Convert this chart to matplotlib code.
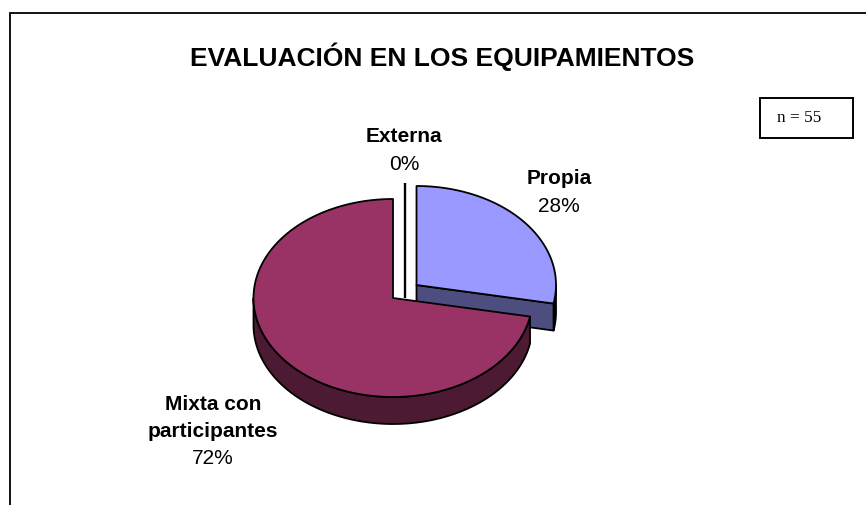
import numpy as np
import matplotlib
matplotlib.use("Agg")
import matplotlib.pyplot as plt
from matplotlib.patches import Polygon, Rectangle

plt.rcParams['font.family'] = ['Liberation Sans', 'DejaVu Sans']

title = "EVALUACIÓN EN LOS EQUIPAMIENTOS"
categories = ["Propia", "Mixta con\nparticipantes", "Externa"]
shares = [28, 72, 0]
pct_labels = ["28%", "72%", "0%"]
top_colors = ["#9999FF", "#993366"]
side_colors = ["#4D4D80", "#4D1A33"]
note = "n = 55"

W, H = 866, 505
fig = plt.figure(figsize=(W / 100, H / 100), dpi=100)
ax = fig.add_axes([0, 0, 1, 1])
ax.set_xlim(0, W)
ax.set_ylim(H, 0)
ax.axis("off")

RX, RY, DEPTH = 139.5, 99, 27
LW = 1.3
centers = [(416.5, 285), (393, 298), (405, 298)]
external_scale = 1.16


def arc(cx, cy, a0, a1, n=200, k=1.0):
    t = np.radians(np.linspace(a0, a1, n))
    return np.column_stack([cx + k * RX * np.sin(t), cy - k * RY * np.cos(t)])


def poly(points, fc, z):
    ax.add_patch(Polygon(points, closed=True, fc=fc, ec="black", lw=LW, zorder=z, joinstyle="round"))


total = sum(shares)
a_prop = shares[0] / total * 360
a_mix = a_prop + shares[1] / total * 360

# Propia: dark rim (thin sliver on the right), cut face, top
p_cx, p_cy = centers[0]
rim = arc(p_cx, p_cy, 90, a_prop)
poly(np.vstack([rim, (rim + [0, DEPTH])[::-1]]), "black", 1)
end = arc(p_cx, p_cy, a_prop, a_prop, 1)[0]
poly(np.array([[p_cx, p_cy], end, end + [0, DEPTH], [p_cx, p_cy + DEPTH]]), side_colors[0], 1.2)
poly(np.vstack([[p_cx, p_cy], arc(p_cx, p_cy, 0, a_prop)]), top_colors[0], 1.5)

# Mixta con participantes: front rim, top
m_cx, m_cy = centers[1]
rim = arc(m_cx, m_cy, a_prop, 270)
poly(np.vstack([rim, (rim + [0, DEPTH])[::-1]]), side_colors[1], 2)
poly(np.vstack([[m_cx, m_cy], arc(m_cx, m_cy, a_prop, a_mix)]), top_colors[1], 2.5)

# Externa: zero-width slice, a single radial line
e_cx, e_cy = centers[2]
e_top = arc(e_cx, e_cy, a_mix, a_mix, 1, external_scale)[0]
ax.plot([e_cx, e_top[0]], [e_cy, e_top[1]], color="black", lw=1.7, zorder=3, solid_capstyle="butt")


def label(x, y, name, pct):
    yy = y
    for ln in name.split("\n"):
        ax.text(x, yy, ln, ha="center", va="center", fontsize=15, fontweight="bold", color="black", zorder=5)
        yy += 27.5
    ax.text(x, yy, pct, ha="center", va="center", fontsize=15, color="black", zorder=5)


label(559, 178.5, categories[0], pct_labels[0])
label(213, 404, categories[1], pct_labels[1])
label(404, 136.5, categories[2], pct_labels[2])

ax.text(442, 57, title, ha="center", va="center", fontsize=19, fontweight="bold", color="black")

# Frame
ax.plot([10, 10, W + 2], [H + 2, 12.5, 12.5], color="black", lw=1.3, zorder=6, solid_joinstyle="miter")

# Note box
ax.add_patch(Rectangle((760, 98), 93, 40, fc="white", ec="black", lw=1.4, zorder=6))
ax.text(799, 117.5, note, ha="center", va="center", fontsize=12.4, family=["Liberation Serif", "DejaVu Serif"], zorder=7)

fig.savefig("out.png", dpi=100)
